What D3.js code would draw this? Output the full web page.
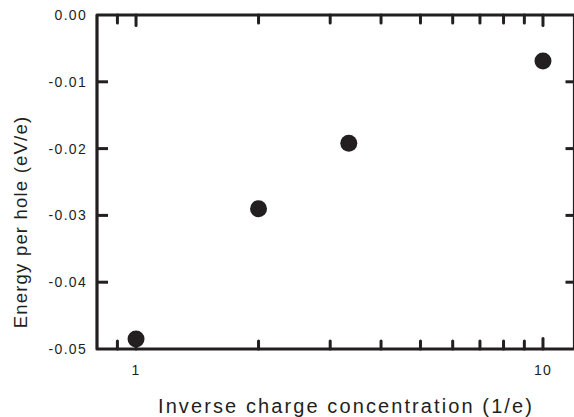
<!DOCTYPE html>
<html><head><meta charset="utf-8">
<script src="https://cdn.jsdelivr.net/npm/d3@7"></script>
<style>body{margin:0;background:#fff;}svg{display:block;}</style>
</head><body>
<svg id="c" width="574" height="417"></svg>
<script>
const xValues = [1, 2, 3.333, 10];
const yValues = [-0.0485, -0.029, -0.0192, -0.0069];
const yTicks = [0, -0.01, -0.02, -0.03, -0.04, -0.05];
const yTickLabels = ["0.00", "-0.01", "-0.02", "-0.03", "-0.04", "-0.05"];
const xMajorTicks = [1, 10];
const xMajorLabels = ["1", "10"];
const xMinorTicks = [0.9, 2, 3, 4, 5, 6, 7, 8, 9];
const xTitle = "Inverse charge concentration (1/e)";
const yTitle = "Energy per hole (eV/e)";

const col = "#231f20";
const svg = d3.select("#c");
const x = d3.scaleLog().domain([0.8, 12]).range([96.6, 575.2]);
const y = d3.scaleLinear().domain([-0.05, 0]).range([349, 15]);
const L = 97, R = 573.5, T = 15, B = 349;

const font = "'Liberation Sans', Arial, sans-serif";

// frame
svg.append("line").attr("x1", R).attr("x2", R).attr("y1", T).attr("y2", B)
  .attr("stroke", col).attr("stroke-width", 1.2);
svg.append("path").attr("d", `M${L},${B}L${L},${T}L${R+2},${T}M${L},${B}L${R+2},${B}`)
  .attr("fill", "none").attr("stroke", col).attr("stroke-width", 3.2)
  .attr("stroke-linejoin", "round").attr("stroke-linecap", "round");

// y ticks left and right
const yt = yTicks.filter(v => v !== 0 && v !== -0.05);
svg.selectAll(".ytl").data(yt).enter().append("line")
  .attr("x1", L).attr("x2", L + 11).attr("y1", d => y(d)).attr("y2", d => y(d))
  .attr("stroke", col).attr("stroke-width", 3);
svg.selectAll(".ytr").data(yt).enter().append("line")
  .attr("x1", R + 2).attr("x2", R - 8).attr("y1", d => y(d)).attr("y2", d => y(d))
  .attr("stroke", col).attr("stroke-width", 3);

// y tick labels
svg.selectAll(".ylab").data(yTicks).enter().append("text")
  .attr("x", 87).attr("y", d => y(d)).attr("dy", "0.36em")
  .attr("text-anchor", "end").attr("font-family", font).attr("font-size", 14)
  .attr("letter-spacing", 1.3).attr("fill", col)
  .text((d, i) => yTickLabels[i]);

// x ticks top and bottom
function xt(vals, len) {
  svg.selectAll(null).data(vals).enter().append("line")
    .attr("x1", d => x(d)).attr("x2", d => x(d)).attr("y1", T).attr("y2", T + len)
    .attr("stroke", col).attr("stroke-width", 3).attr("stroke-linecap", "round");
  svg.selectAll(null).data(vals).enter().append("line")
    .attr("x1", d => x(d)).attr("x2", d => x(d)).attr("y1", B).attr("y2", B - len)
    .attr("stroke", col).attr("stroke-width", 3).attr("stroke-linecap", "round");
}
xt(xMinorTicks, 8);
xt(xMajorTicks, 10.5);

svg.selectAll(".xlab").data(xMajorTicks).enter().append("text")
  .attr("x", d => x(d)).attr("y", 375)
  .attr("text-anchor", "middle").attr("font-family", font).attr("font-size", 14)
  .attr("letter-spacing", 1.2).attr("fill", col)
  .text((d, i) => xMajorLabels[i]);

// titles
svg.append("text").attr("x", 346).attr("y", 413).attr("text-anchor", "middle")
  .attr("font-family", font).attr("font-size", 20).attr("letter-spacing", 2.1)
  .attr("fill", col).text(xTitle);
svg.append("text").attr("transform", "translate(27,222) rotate(-90)")
  .attr("text-anchor", "middle").attr("font-family", font).attr("font-size", 18.5)
  .attr("letter-spacing", 1.2).attr("fill", col).text(yTitle);

// points
svg.selectAll(".pt").data(xValues).enter().append("circle")
  .attr("cx", d => x(d)).attr("cy", (d, i) => y(yValues[i])).attr("r", 8.5)
  .attr("fill", col);
</script>
</body></html>
